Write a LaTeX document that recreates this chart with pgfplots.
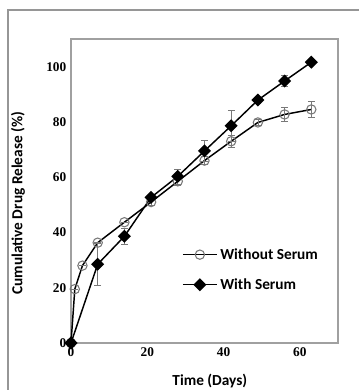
\documentclass[border=0pt]{standalone}
\usepackage{pgfplots}
\pgfplotsset{compat=1.18}
\usepackage{fontspec}
\setmainfont{Carlito}
\newfontfamily\tnr{Liberation Serif}
\definecolor{framegray}{RGB}{150,150,150}
\definecolor{axgray}{RGB}{160,160,160}
\definecolor{mkgray}{RGB}{120,120,120}
\begin{document}
\begin{tikzpicture}
\useasboundingbox (0,0) rectangle (269.25pt,292.5pt);
\draw[framegray, line width=1.5pt] (6pt,0pt) -- (6pt,285pt) -- (269.25pt,285pt);
\begin{axis}[
  at={(53.25pt,35.25pt)}, anchor=south west,
  scale only axis, width=200.25pt, height=228pt,
  xmin=0, xmax=70, ymin=0, ymax=110,
  xtick={0,20,40,60}, ytick={0,20,40,60,80,100},
  major tick length=0pt,
  axis line style={axgray, line width=0.9pt},
  /pgf/number format/assume math mode=true,
  ticklabel style={font=\tnr\bfseries\fontsize{10}{12}\selectfont},
  xlabel={Time (Days)}, ylabel={Cumulative Drug Release (\%)},
  label style={font=\bfseries\fontsize{11.5}{13}\selectfont},
  xlabel style={at={(axis description cs:0.52,-0.125)}, anchor=center},
  ylabel style={at={(axis description cs:-0.199,0.46)}, anchor=center},
  legend style={draw=none, fill=none, at={(axis description cs:0.40,0.33)}, anchor=north west,
    font=\bfseries\fontsize{11.5}{13}\selectfont, row sep=9pt, legend cell align=left},
  legend image code/.code={\draw[mark repeat=2,mark phase=2] plot coordinates {(0cm,0cm)(0.45cm,0cm)(0.9cm,0cm)};},
  clip=false,
]
\addplot[black, line width=1.1pt, mark=o, mark size=3.5pt, mark options={mkgray, line width=0.8pt, solid},
  error bars/.cd, y dir=both, y explicit, error bar style={mkgray, line width=0.5pt}, error mark options={rotate=90, mark size=2.5pt, mkgray}]
coordinates {
 (0,0) +- (0,0)
 (1,19.5) +- (0,0)
 (3,28) +- (0,0)
 (7,36.3) +- (0,0)
 (14,43.7) +- (0,0)
 (21,51) +- (0,1)
 (28,58.5) +- (0,1.5)
 (35,66) +- (0,1.5)
 (42,73) +- (0,2)
 (49,79.8) +- (0,1)
 (56,82.7) +- (0,2.5)
 (63,84.5) +- (0,3)
};
\addlegendentry{Without Serum}
\addplot[black, line width=1.1pt, mark=square*, mark size=2.9pt, mark options={black, rotate=45, solid},
  error bars/.cd, y dir=both, y explicit, error bar style={mkgray, line width=0.5pt}, error mark options={rotate=90, mark size=2.5pt, mkgray}]
coordinates {
 (0,0) +- (0,0)
 (7,28.5) +- (0,7.6)
 (14,38.6) +- (0,3)
 (21,52.7) +- (0,1)
 (28,60.3) +- (0,2.7)
 (35,69.5) +- (0,3.7)
 (42,78.6) +- (0,5.5)
 (49,87.9) +- (0,1)
 (56,94.8) +- (0,2)
 (63,101.6) +- (0,0.5)
};
\addlegendentry{With Serum}
\end{axis}
\end{tikzpicture}
\end{document}
